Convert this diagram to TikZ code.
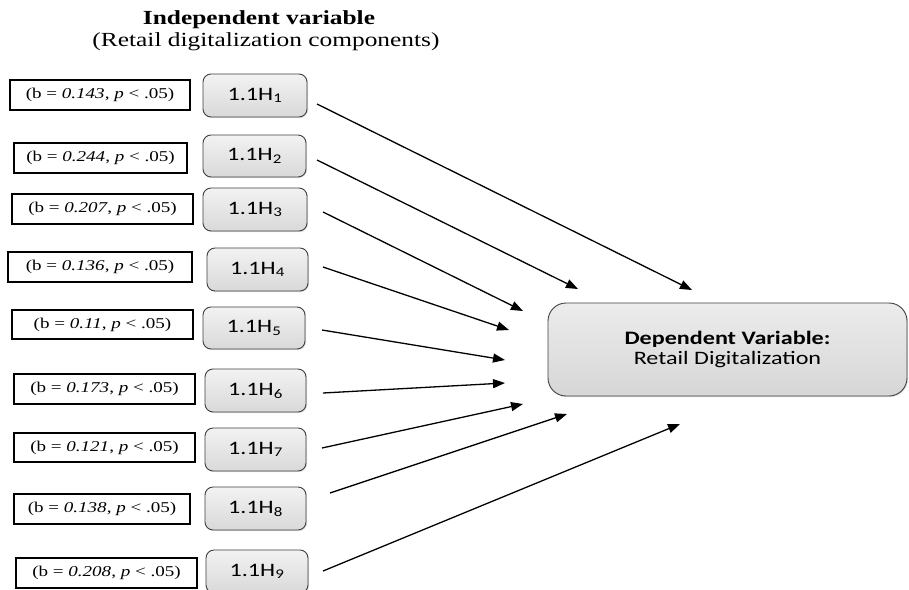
\documentclass[tikz,border=0pt]{standalone}
\usepackage{fontspec}
\setmainfont{Liberation Serif}[FakeStretch=1.27]
\newfontfamily\calfont{Carlito}[FakeStretch=1.27]
\usetikzlibrary{arrows.meta,shadows}
\tikzset{
  lab/.style={draw=black, line width=1.4pt, inner sep=0pt,
    font=\fontsize{15}{18}\selectfont},
  hyp/.style={draw=black!75, line width=0.9pt, rounded corners=8pt, inner sep=0pt,
    top color=gray!10, bottom color=gray!30,
    drop shadow={opacity=0.25, shadow xshift=1pt, shadow yshift=-1pt},
    font=\calfont\fontsize{19}{22}\selectfont},
  dep/.style={draw=black!75, line width=0.9pt, rounded corners=18pt, inner sep=0pt,
    top color=gray!15, bottom color=gray!32,
    drop shadow={opacity=0.25, shadow xshift=1pt, shadow yshift=-1pt},
    font=\calfont\fontsize{19}{20}\selectfont, align=center},
  link/.style={line width=1.3pt, -{Triangle[length=12pt,width=9pt]}}
}
\begin{document}
\begin{tikzpicture}[x=1pt,y=-1pt]
\useasboundingbox (0,0) rectangle (909,589);
\clip (0,0) rectangle (909,589);
\fill[white] (0,0) rectangle (909,589);

\node[font=\bfseries\fontsize{20}{24}\selectfont] (t1) at (259,20) {Independent variable};
\node[font=\fontsize{20}{24}\selectfont] (t2) at (266,42) {(Retail digitalization components)};

\node[lab, minimum width=180pt, minimum height=30pt] (L1) at (100,95) {(b = \textit{0.143}, \textit{p} < .05)};
\node[lab, minimum width=173pt, minimum height=30pt] (L2) at (100.5,158) {(b = \textit{0.244}, \textit{p} < .05)};
\node[lab, minimum width=181pt, minimum height=30pt] (L3) at (102.5,209) {(b = \textit{0.207}, \textit{p} < .05)};
\node[lab, minimum width=184pt, minimum height=30pt] (L4) at (100,267) {(b = \textit{0.136}, \textit{p} < .05)};
\node[lab, minimum width=181pt, minimum height=29pt] (L5) at (102.5,324.5) {(b = \textit{0.11}, \textit{p} < .05)};
\node[lab, minimum width=181pt, minimum height=30pt] (L6) at (104.5,389) {(b = \textit{0.173}, \textit{p} < .05)};
\node[lab, minimum width=181pt, minimum height=29pt] (L7) at (104.5,447.5) {(b = \textit{0.121}, \textit{p} < .05)};
\node[lab, minimum width=176pt, minimum height=30pt] (L8) at (102,509) {(b = \textit{0.138}, \textit{p} < .05)};
\node[lab, minimum width=181pt, minimum height=30pt] (L9) at (106.5,573) {(b = \textit{0.208}, \textit{p} < .05)};

\node[hyp, minimum width=104pt, minimum height=43pt] (H1) at (255,95.5) {1.1H\textsubscript{1}};
\node[hyp, minimum width=103pt, minimum height=42pt] (H2) at (254.5,156) {1.1H\textsubscript{2}};
\node[hyp, minimum width=104pt, minimum height=43pt] (H3) at (255,209.5) {1.1H\textsubscript{3}};
\node[hyp, minimum width=101pt, minimum height=43pt] (H4) at (257.5,269.5) {1.1H\textsubscript{4}};
\node[hyp, minimum width=102pt, minimum height=42pt] (H5) at (254,328) {1.1H\textsubscript{5}};
\node[hyp, minimum width=101pt, minimum height=43pt] (H6) at (255.5,390.5) {1.1H\textsubscript{6}};
\node[hyp, minimum width=101pt, minimum height=43pt] (H7) at (255.5,449.5) {1.1H\textsubscript{7}};
\node[hyp, minimum width=101pt, minimum height=43pt] (H8) at (255.5,508.5) {1.1H\textsubscript{8}};
\node[hyp, minimum width=102pt, minimum height=43pt] (H9) at (257,571.5) {1.1H\textsubscript{9}};

\node[dep, minimum width=359pt, minimum height=93pt] (D) at (727.5,349.5)
  {\bfseries Dependent Variable:\\ Retail Digitalization};

\coordinate (s1) at (317,104); \coordinate (e1) at (692,290);
\coordinate (s2) at (317,160); \coordinate (e2) at (578,289);
\coordinate (s3) at (323,212); \coordinate (e3) at (523,311);
\coordinate (s4) at (323,267); \coordinate (e4) at (509,330);
\coordinate (s5) at (322,330); \coordinate (e5) at (505,360);
\coordinate (s6) at (323,393); \coordinate (e6) at (505,383);
\coordinate (s7) at (322,448); \coordinate (e7) at (523,404);
\coordinate (s8) at (330,493); \coordinate (e8) at (567,414);
\coordinate (s9) at (323,571); \coordinate (e9) at (680,424);

\foreach \i in {1,...,9} { \draw[link] (s\i) -- (e\i); }
\end{tikzpicture}
\end{document}
